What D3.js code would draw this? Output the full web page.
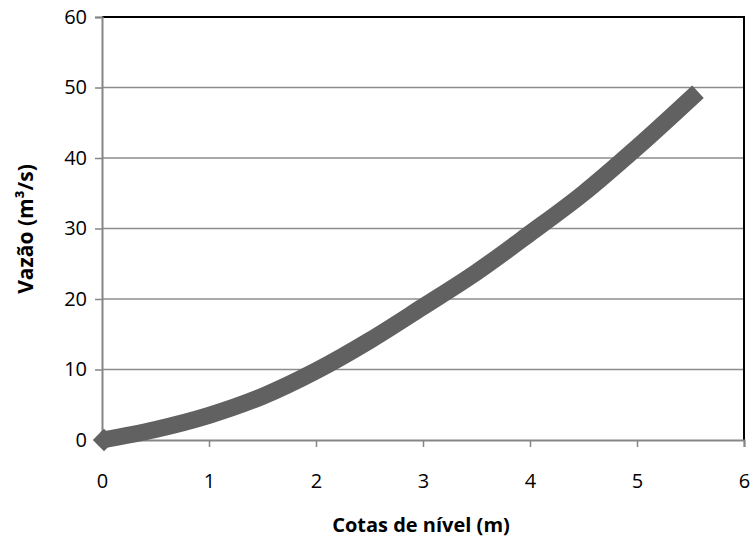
<!DOCTYPE html>
<html>
<head>
<meta charset="utf-8">
<script src="https://cdn.jsdelivr.net/npm/d3@7"></script>
<style>
  html, body { margin: 0; padding: 0; background: #fff; }
  svg text { font-family: "Open Sans", "Noto Sans", sans-serif; fill: #000; }
</style>
</head>
<body>
<svg id="chart" width="756" height="546"></svg>
<script>
// Curva-chave: cota (m) x vazão (m³/s)
const cotas  = [0, 0.5, 1, 1.5, 2, 2.5, 3, 3.5, 4, 4.5, 5, 5.57];
const vazoes = [0, 1.5, 3.5, 6.2, 9.8, 14.1, 18.9, 23.8, 29.3, 35.0, 41.5, 49.4];
const xTicks = [0, 1, 2, 3, 4, 5, 6];
const yTicks = [0, 10, 20, 30, 40, 50, 60];
const xTitle = "Cotas de nível (m)";
const yTitle = "Vazão (m³/s)";

const svg = d3.select("#chart");
const plotLeft = 102, plotRight = 744, plotTop = 17, plotBottom = 440;

const x = d3.scaleLinear().domain([0, 6]).range([plotLeft, plotRight]);
const y = d3.scaleLinear().domain([0, 60]).range([plotBottom, plotTop]);

// horizontal gridlines
svg.append("g")
  .selectAll("line")
  .data(yTicks.filter(d => d > 0 && d < 60))
  .join("line")
  .attr("x1", plotLeft).attr("x2", plotRight)
  .attr("y1", d => y(d)).attr("y2", d => y(d))
  .attr("stroke", "#8c8c8c").attr("stroke-width", 1.5);

// top and right borders of the plot area
svg.append("path")
  .attr("d", `M${plotLeft},${plotTop}H${plotRight}V${plotBottom}`)
  .attr("fill", "none").attr("stroke", "#000").attr("stroke-width", 2);

// y axis
const yAxis = svg.append("g")
  .attr("transform", `translate(${plotLeft},0)`)
  .call(d3.axisLeft(y).tickValues(yTicks).tickSize(7).tickPadding(8).tickFormat(d3.format("d")));
yAxis.select(".domain").attr("stroke", "#868686").attr("stroke-width", 2);
yAxis.selectAll(".tick line").attr("stroke", "#868686").attr("stroke-width", 1.5);
yAxis.selectAll(".tick text")
  .style("font-size", "20px")
  .attr("font-family", "Open Sans, Noto Sans, sans-serif");

// x axis
const xAxis = svg.append("g")
  .attr("transform", `translate(0,${plotBottom})`)
  .call(d3.axisBottom(x).tickValues(xTicks).tickSize(7).tickPadding(27).tickFormat(d3.format("d")));
xAxis.select(".domain").attr("stroke", "#868686").attr("stroke-width", 2);
xAxis.selectAll(".tick line").attr("stroke", "#868686").attr("stroke-width", 1.5);
xAxis.selectAll(".tick text")
  .style("font-size", "20px")
  .attr("font-family", "Open Sans, Noto Sans, sans-serif");

// rating curve
const pts = cotas.map((c, i) => [c, vazoes[i]]);
const line = d3.line().x(d => x(d[0])).y(d => y(d[1])).curve(d3.curveMonotoneX);

svg.append("path")
  .datum(pts)
  .attr("d", line)
  .attr("fill", "none")
  .attr("stroke", "#616161")
  .attr("stroke-width", 17)
  .attr("stroke-linejoin", "round")
  .attr("stroke-linecap", "butt");

// marker at the first point
svg.append("path")
  .attr("d", d3.symbol(d3.symbolDiamond2, 320)())
  .attr("transform", `translate(${x(cotas[0]) + 2},${y(vazoes[0])})`)
  .attr("fill", "#616161");

// axis titles
svg.append("text")
  .attr("x", 421)
  .attr("y", 532)
  .attr("text-anchor", "middle")
  .style("font-size", "20px")
  .style("font-weight", "bold")
  .text(xTitle);

svg.append("text")
  .attr("transform", `translate(33,229) rotate(-90)`)
  .attr("text-anchor", "middle")
  .style("font-size", "21px")
  .style("font-weight", "bold")
  .text(yTitle);
</script>
</body>
</html>
